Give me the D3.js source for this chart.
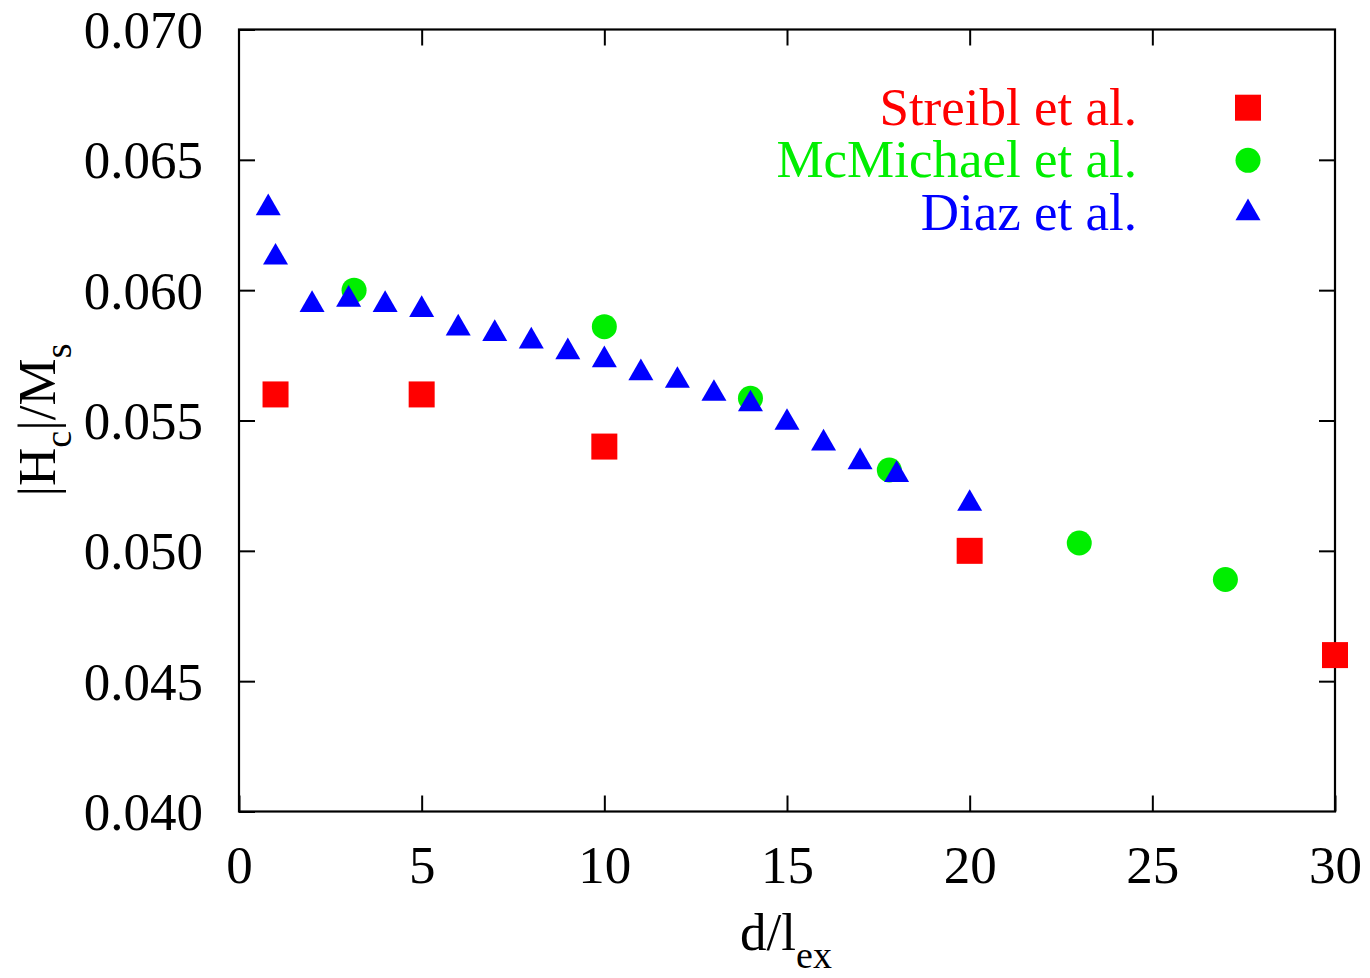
<!DOCTYPE html>
<html>
<head>
<meta charset="utf-8">
<script src="https://cdn.jsdelivr.net/npm/d3@7"></script>
<style>
  html, body { margin: 0; padding: 0; background: #fff; }
  svg text { font-family: "Liberation Serif", "Times New Roman", serif; }
</style>
</head>
<body>
<svg id="chart" width="1370" height="978"></svg>
<script>
// ---- data ----
const streiblX = [1, 5, 10, 20, 30];
const streiblY = [0.0560, 0.0560, 0.0540, 0.0500, 0.0460];

const mcmichaelX = [3.15, 10, 14, 17.8, 23, 27];
const mcmichaelY = [0.0600, 0.0586, 0.05585, 0.0531, 0.0503, 0.0489];

const diazX = [0.8, 1, 2, 3, 4, 5, 6, 7, 8, 9, 10, 11, 12, 13, 14, 15, 16, 17, 18, 20];
const diazY = [0.06315, 0.06126, 0.05944, 0.05964, 0.05944, 0.05925, 0.05854, 0.05833,
               0.05804, 0.05763, 0.05732, 0.05682, 0.05653, 0.05603, 0.05563, 0.05492,
               0.05413, 0.05341, 0.05292, 0.05181];

const xTicks = [0, 5, 10, 15, 20, 25, 30];
const yTicks = [0.040, 0.045, 0.050, 0.055, 0.060, 0.065, 0.070];

const seriesNames = ["Streibl et al.", "McMichael et al.", "Diaz et al."];
const seriesColors = ["#ff0000", "#00ee00", "#0000ff"];

// ---- layout ----
const svg = d3.select("#chart");
const L = 239, R = 1335, T = 29.5, B = 811.5;
const x = d3.scaleLinear().domain([0, 30]).range([L, R]);
const y = d3.scaleLinear().domain([0.040, 0.070]).range([B, T]);
const tickLen = 16;
const fs = 53;

// axes (inward ticks, mirrored)
const fmtY = d3.format(".3f");
svg.append("g").attr("transform", `translate(${L},0)`)
  .call(d3.axisLeft(y).tickValues(yTicks).tickSize(-tickLen).tickFormat(fmtY).tickPadding(36))
  .call(g => g.select(".domain").remove())
  .call(g => g.selectAll("line").attr("stroke", "#000").attr("stroke-width", 2))
  .call(g => g.selectAll("text").attr("font-size", fs).attr("fill", "#000")
      .attr("font-family", "Liberation Serif").attr("dy", "0.34em"));
svg.append("g").attr("transform", `translate(${R},0)`)
  .call(d3.axisRight(y).tickValues(yTicks.slice(1, -1)).tickSize(-tickLen).tickFormat(""))
  .call(g => g.select(".domain").remove())
  .call(g => g.selectAll("line").attr("stroke", "#000").attr("stroke-width", 2));
svg.append("g").attr("transform", `translate(0,${B})`)
  .call(d3.axisBottom(x).tickValues(xTicks).tickSize(-tickLen).tickFormat(d3.format("d")).tickPadding(34))
  .call(g => g.select(".domain").remove())
  .call(g => g.selectAll("line").attr("stroke", "#000").attr("stroke-width", 2))
  .call(g => g.selectAll("text").attr("font-size", fs).attr("fill", "#000")
      .attr("font-family", "Liberation Serif").attr("dy", "0.71em"));
svg.append("g").attr("transform", `translate(0,${T})`)
  .call(d3.axisTop(x).tickValues(xTicks.slice(1, -1)).tickSize(-tickLen).tickFormat(""))
  .call(g => g.select(".domain").remove())
  .call(g => g.selectAll("line").attr("stroke", "#000").attr("stroke-width", 2));

// frame
svg.append("rect").attr("x", L).attr("y", T).attr("width", R - L).attr("height", B - T)
  .attr("fill", "none").attr("stroke", "#000").attr("stroke-width", 2.2);

// axis labels
const xl = svg.append("text").attr("x", 786).attr("y", 950).attr("text-anchor", "middle")
  .attr("font-size", fs).attr("fill", "#000");
xl.append("tspan").text("d/l");
xl.append("tspan").attr("font-size", 38).attr("dy", 18).text("ex");

const yl = svg.append("text").attr("transform", "translate(55,420) rotate(-90)")
  .attr("text-anchor", "middle").attr("font-size", fs).attr("fill", "#000");
yl.append("tspan").text("|H");
yl.append("tspan").attr("font-size", 38).attr("dy", 16).text("c");
yl.append("tspan").attr("dy", -16).text("|/M");
yl.append("tspan").attr("font-size", 38).attr("dy", 16).text("s");

// markers
const sqSize = 26, circR = 12.5;
const triSym = d3.symbol().type(d3.symbolTriangle).size(25 * 25 * Math.sqrt(3) / 4 * 1.0);
const plot = svg.append("g");

plot.selectAll(".sq").data(d3.zip(streiblX, streiblY)).join("rect")
  .attr("x", d => x(d[0]) - sqSize / 2).attr("y", d => y(d[1]) - sqSize / 2)
  .attr("width", sqSize).attr("height", sqSize).attr("fill", seriesColors[0]);

plot.selectAll(".ci").data(d3.zip(mcmichaelX, mcmichaelY)).join("circle")
  .attr("cx", d => x(d[0])).attr("cy", d => y(d[1])).attr("r", circR)
  .attr("fill", seriesColors[1]);

plot.selectAll(".tr").data(d3.zip(diazX, diazY)).join("path")
  .attr("d", triSym).attr("transform", d => `translate(${x(d[0])},${y(d[1])})`)
  .attr("fill", seriesColors[2]);

// legend
const legY = [107.7, 160.3, 213];
const legTextX = 1137, legSymX = 1248;
seriesNames.forEach((name, i) => {
  svg.append("text").attr("x", legTextX).attr("y", legY[i] + 17).attr("text-anchor", "end")
    .attr("font-size", fs).attr("fill", seriesColors[i]).text(name);
});
svg.append("rect").attr("x", legSymX - sqSize / 2).attr("y", legY[0] - sqSize / 2)
  .attr("width", sqSize).attr("height", sqSize).attr("fill", seriesColors[0]);
svg.append("circle").attr("cx", legSymX).attr("cy", legY[1]).attr("r", circR).attr("fill", seriesColors[1]);
svg.append("path").attr("d", triSym).attr("transform", `translate(${legSymX},${legY[2]})`).attr("fill", seriesColors[2]);
</script>
</body>
</html>
